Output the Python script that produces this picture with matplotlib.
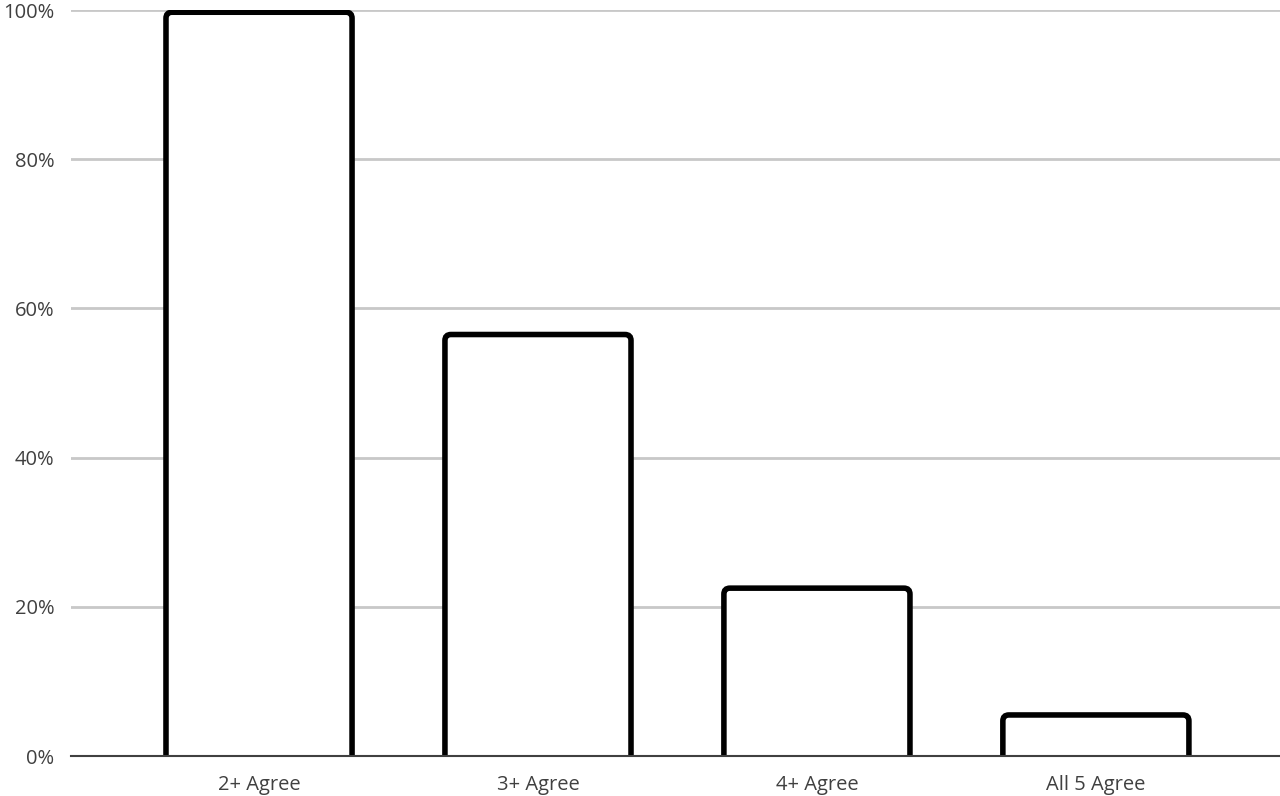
import matplotlib
matplotlib.use("Agg")
import matplotlib.pyplot as plt
from matplotlib.patches import FancyBboxPatch

# data
categories = ["2+ Agree", "3+ Agree", "4+ Agree", "All 5 Agree"]
values = [99.7, 56.5, 22.5, 5.5]
yticks = [0, 20, 40, 60, 80, 100]
ytick_labels = ["0%", "20%", "40%", "60%", "80%", "100%"]

plt.rcParams['font.family'] = ['Open Sans', 'DejaVu Sans']

fig = plt.figure(figsize=(12.8, 7.96), dpi=100)
ax = fig.add_axes([71/1280, 40/796, 1209/1280, 746/796])

x = list(range(len(categories)))
bars = ax.bar(x, values, width=0.667, color="none", edgecolor="none", zorder=3)

ax.set_xlim(-0.674, 3.66)
ax.set_ylim(0, 100)

# redraw each bar with rounded corners (bottom corners hidden under the axis)
xpx = 1209 / (3.66 + 0.674)      # px per x unit
ypx = 746 / 100.0                # px per y unit
r = 6.0 / xpx
for b in bars:
    p = FancyBboxPatch((b.get_x(), -3), b.get_width(), b.get_height() + 3,
                       boxstyle="round,pad=0,rounding_size=%f" % r,
                       mutation_aspect=xpx / ypx,
                       facecolor="white", edgecolor="black", linewidth=4,
                       zorder=3, clip_on=True)
    ax.add_patch(p)

ax.set_yticks(yticks)
ax.set_yticklabels(ytick_labels)
ax.set_xticks(x)
ax.set_xticklabels(categories)

ax.yaxis.grid(True, color="#c8c8c8", linewidth=2)
ax.set_axisbelow(True)
for s in ["top", "right", "left"]:
    ax.spines[s].set_visible(False)
ax.spines["bottom"].set_color("#404040")
ax.spines["bottom"].set_linewidth(1.5)
ax.spines["bottom"].set_zorder(4)

ax.tick_params(axis="both", length=0, labelsize=14.5, colors="#404040")
ax.tick_params(axis="y", pad=12)
ax.tick_params(axis="x", pad=14)

fig.savefig("out.png", dpi=100)
